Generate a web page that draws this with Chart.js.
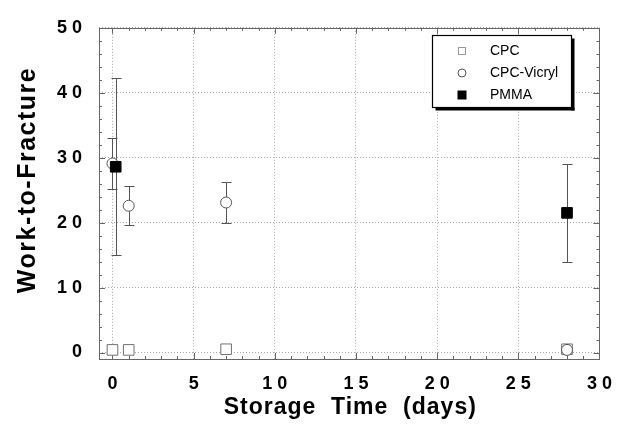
<!DOCTYPE html>
<html><head><meta charset="utf-8">
<script src="https://cdn.jsdelivr.net/npm/chart.js@4/dist/chart.umd.min.js"></script>
<style>html,body{margin:0;padding:0;background:#fff}#wrap{width:626px;height:425px}</style>
</head><body><div id="wrap"><canvas id="c" width="626" height="425"></canvas></div>
<script>
const seriesNames = ['CPC', 'CPC-Vicryl', 'PMMA'];
const cpcDays = [0, 1, 7, 28];
const cpcValues = [0.4, 0.4, 0.5, 0.5];
const vicrylDays = [0, 1, 7, 28];
const vicrylValues = [29.1, 22.6, 23.1, 0.4];
const vicrylErrors = [3.9, 3.0, 3.1, 0];
const pmmaDays = [0.2, 28];
const pmmaValues = [28.6, 21.5];
const pmmaErrors = [13.6, 7.5];
const xTickValues = [0, 5, 10, 15, 20, 25, 30];
const xTickLabels = ['0', '5', '1 0', '1 5', '2 0', '2 5', '3 0'];
const yTickValues = [0, 10, 20, 30, 40, 50];
const yTickLabels = ['0', '1 0', '2 0', '3 0', '4 0', '5 0'];
const xTitle = 'Storage  Time  (days)';
const yTitle = 'Work-to-Fracture';

const FONT = '"Liberation Sans", Arial, Helvetica, sans-serif';

function pts(xs, ys) { return xs.map((x, i) => ({x: x, y: ys[i]})); }

const errorBars = {
  id: 'errorBars',
  beforeDatasetsDraw(chart) {
    const ctx = chart.ctx, xs = chart.scales.x, ys = chart.scales.y;
    ctx.save();
    ctx.strokeStyle = '#555';
    ctx.lineWidth = 1;
    const draw = (days, vals, errs) => {
      days.forEach((d, i) => {
        if (!errs[i]) return;
        const px = Math.round(xs.getPixelForValue(d)) + 0.5;
        const top = Math.round(ys.getPixelForValue(vals[i] + errs[i])) + 0.5;
        const bot = Math.round(ys.getPixelForValue(vals[i] - errs[i])) + 0.5;
        ctx.beginPath();
        ctx.moveTo(px, top); ctx.lineTo(px, bot);
        ctx.moveTo(px - 5, top); ctx.lineTo(px + 5, top);
        ctx.moveTo(px - 5, bot); ctx.lineTo(px + 5, bot);
        ctx.stroke();
      });
    };
    draw(vicrylDays, vicrylValues, vicrylErrors);
    draw(pmmaDays, pmmaValues, pmmaErrors);
    ctx.restore();
  }
};

const frameTicks = {
  id: 'frameTicks',
  beforeDatasetsDraw(chart) {
    const ctx = chart.ctx, a = chart.chartArea, xs = chart.scales.x, ys = chart.scales.y;
    ctx.save();
    ctx.strokeStyle = '#666';
    ctx.lineWidth = 1;
    ctx.beginPath();
    for (let d = 0; d <= 30; d++) {
      const px = Math.round(xs.getPixelForValue(d)) + 0.5;
      const len = d % 5 === 0 ? 6 : 3;
      ctx.moveTo(px, a.bottom); ctx.lineTo(px, a.bottom - len);
      ctx.moveTo(px, a.top); ctx.lineTo(px, a.top + len);
    }
    for (let v = 0; v <= 50; v += 2) {
      const py = Math.round(ys.getPixelForValue(v)) + 0.5;
      const len = v % 10 === 0 ? 6 : 3;
      ctx.moveTo(a.left, py); ctx.lineTo(a.left + len, py);
      ctx.moveTo(a.right, py); ctx.lineTo(a.right - len, py);
    }
    ctx.stroke();
    ctx.strokeRect(Math.round(a.left) + 0.5, Math.round(a.top) + 0.5, Math.round(a.right - a.left), Math.round(a.bottom - a.top));
    ctx.restore();
  }
};

const titlesLegend = {
  id: 'titlesLegend',
  afterDraw(chart) {
    const ctx = chart.ctx, a = chart.chartArea;
    ctx.save();
    ctx.fillStyle = '#000';
    ctx.textAlign = 'center';
    ctx.textBaseline = 'middle';
    try { ctx.letterSpacing = '1px'; } catch (e) {}
    ctx.font = 'bold 23px ' + FONT;
    ctx.fillText(xTitle, (a.left + a.right) / 2 + 1, 408);
    ctx.font = 'bold 25px ' + FONT;
    try { ctx.letterSpacing = '1.5px'; } catch (e) {}
    ctx.translate(28, 180);
    ctx.rotate(-Math.PI / 2);
    ctx.fillText(yTitle, 0, 0);
    ctx.restore();

    // legend
    ctx.save();
    try { ctx.letterSpacing = '0px'; } catch (e) {}
    const L = 432.5, T = 35.5, W = 139, H = 72;
    ctx.fillStyle = '#000';
    ctx.fillRect(L + 3, T + H, W, 3);
    ctx.fillRect(L + W, T + 3, 3, H);
    ctx.fillStyle = '#fff';
    ctx.fillRect(L, T, W, H);
    ctx.strokeStyle = '#000';
    ctx.lineWidth = 1.2;
    ctx.strokeRect(L, T, W, H);
    const rows = [51, 73, 95];
    const mx = 462;
    ctx.strokeStyle = '#999'; ctx.lineWidth = 1;
    ctx.strokeRect(mx - 3.5, rows[0] - 3.5, 7, 7);
    ctx.strokeStyle = '#555';
    ctx.beginPath(); ctx.arc(mx, rows[1], 4, 0, Math.PI * 2); ctx.stroke();
    ctx.fillStyle = '#000';
    ctx.fillRect(mx - 4.5, rows[2] - 4.5, 9, 9);
    ctx.font = '14px ' + FONT;
    ctx.textAlign = 'left';
    ctx.textBaseline = 'middle';
    seriesNames.forEach((n, i) => ctx.fillText(n, 490, rows[i]));
    ctx.restore();
  }
};

new Chart(document.getElementById('c'), {
  type: 'scatter',
  data: {
    datasets: [
      {label: seriesNames[0], data: pts(cpcDays, cpcValues), pointStyle: 'rect', pointRadius: 7.5, pointHoverRadius: 7.5,
       backgroundColor: '#fff', borderColor: '#707070', borderWidth: 1, order: 2},
      {label: seriesNames[1], data: pts(vicrylDays, vicrylValues), pointStyle: 'circle', pointRadius: 5.5, pointHoverRadius: 5.5,
       backgroundColor: '#fff', borderColor: '#555', borderWidth: 1, order: 1},
      {label: seriesNames[2], data: pts(pmmaDays, pmmaValues), pointStyle: 'rect', pointRadius: 7.5, pointHoverRadius: 7.5,
       backgroundColor: '#000', borderColor: '#000', borderWidth: 1, order: 0}
    ]
  },
  options: {
    responsive: false, animation: false, devicePixelRatio: 1,
    layout: {padding: {left: 0, right: 24, top: 17, bottom: 0}},
    plugins: {legend: {display: false}, tooltip: {enabled: false}, title: {display: false}},
    scales: {
      x: {
        type: 'linear', min: -0.83, max: 30,
        afterBuildTicks: s => { s.ticks = xTickValues.map(v => ({value: v})); },
        afterFit: s => { s.height = 66; },
        ticks: {callback: v => xTickLabels[xTickValues.indexOf(v)], font: {family: FONT, size: 18, weight: 'bold'}, color: '#000', padding: 14, maxRotation: 0, autoSkip: false},
        grid: {color: '#a8a8a8', drawTicks: false, lineWidth: 1},
        border: {display: false, dash: [1, 2]}
      },
      y: {
        type: 'linear', min: -1, max: 50,
        afterBuildTicks: s => { s.ticks = yTickValues.map(v => ({value: v})); },
        afterFit: s => { s.width = 99; },
        ticks: {callback: v => yTickLabels[yTickValues.indexOf(v)], font: {family: FONT, size: 18, weight: 'bold'}, color: '#000', padding: 17, autoSkip: false},
        grid: {color: '#a8a8a8', drawTicks: false, lineWidth: 1},
        border: {display: false, dash: [1, 2]}
      }
    }
  },
  plugins: [frameTicks, errorBars, titlesLegend]
});
</script>
</body></html>
